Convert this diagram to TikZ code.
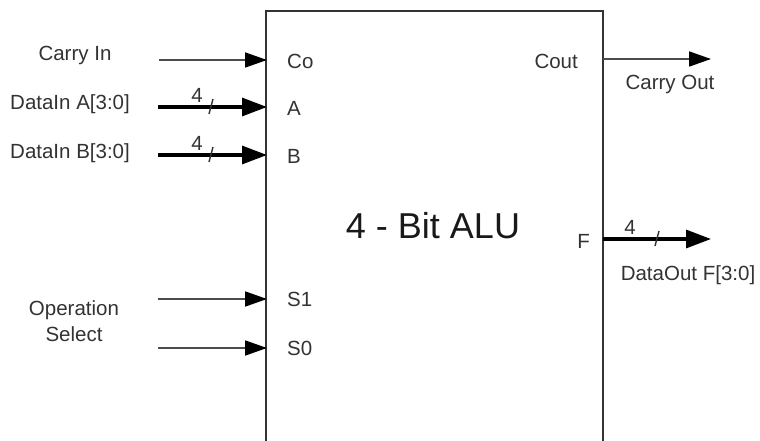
\documentclass[tikz,border=0pt]{standalone}
\usepackage{fontspec}
\setmainfont{Liberation Sans}
\usetikzlibrary{arrows.meta}
\begin{document}
\begin{tikzpicture}[x=1pt,y=-1pt,
  lbl/.style={font=\fontsize{20.5}{24}\selectfont, text=black!80, inner sep=0pt},
  ttl/.style={font=\fontsize{36}{40}\selectfont, text=black!90, inner sep=0pt},
  sig/.style={line width=1.8pt, draw=black!70, -{Triangle[length=22pt,width=15pt,fill=black,color=black]}},
  bus/.style={line width=3.2pt, draw=black, -{Triangle[length=25pt,width=18pt]}},
  slashmk/.style={line width=1.4pt, draw=black!80},
  boxline/.style={line width=2.2pt, draw=black!80}]
\useasboundingbox (0,0) rectangle (760,441);
\clip (0,0) rectangle (760,441);
\fill[white] (0,0) rectangle (760,441);
% box
\coordinate (bl) at (266,470);
\coordinate (tl) at (266,11);
\coordinate (tr) at (603,11);
\coordinate (br) at (603,470);
\draw[boxline] (bl) -- (tl) -- (tr) -- (br);
\node[ttl] (title) at (433,226) {4 - Bit ALU};
% pins
\coordinate (pCo) at (267,60);
\coordinate (pA) at (267,107);
\coordinate (pB) at (267,155);
\coordinate (pS1) at (267,299);
\coordinate (pS0) at (267,348);
\coordinate (pCout) at (603,59);
\coordinate (pF) at (603,239);
% sources / sinks
\coordinate (sCi) at (159,60);
\coordinate (sA) at (158,107);
\coordinate (sB) at (158,155);
\coordinate (sS1) at (158,299);
\coordinate (sS0) at (158,348);
\coordinate (eCout) at (711,59);
\coordinate (eF) at (711,239);
% connectors
\draw[sig] (sCi) -- (pCo);
\draw[bus] (sA) -- (pA);
\draw[bus] (sB) -- (pB);
\draw[sig] (sS1) -- (pS1);
\draw[sig] (sS0) -- (pS0);
\draw[sig] (pCout) -- (eCout);
\draw[bus] (pF) -- (eF);
% bus marks
\coordinate (mA1) at (209,114); \coordinate (mA2) at (213,99);
\draw[slashmk] (mA1) -- (mA2);
\coordinate (mB1) at (209,162); \coordinate (mB2) at (213,147);
\draw[slashmk] (mB1) -- (mB2);
\coordinate (mF1) at (655,246); \coordinate (mF2) at (659,231);
\draw[slashmk] (mF1) -- (mF2);
\node[lbl] (nA) at (197,95) {4};
\node[lbl] (nB) at (197,143) {4};
\node[lbl] (nF) at (630,227) {4};
% outside labels
\node[lbl] (tCi) at (75,55) {Carry In};
\node[lbl, anchor=west] (tA) at (10,104) {DataIn A[3:0]};
\node[lbl, anchor=west] (tB) at (10,153) {DataIn B[3:0]};
\node[lbl] (tOp) at (74,310) {Operation};
\node[lbl] (tSel) at (74,334) {Select};
\node[lbl] (tCo) at (670,84) {Carry Out};
\node[lbl] (tF) at (688,275) {DataOut F[3:0]};
% inside labels
\node[lbl, anchor=west] (iCo) at (287,61) {Co};
\node[lbl, anchor=west] (iA) at (287,108) {A};
\node[lbl, anchor=west] (iB) at (287,156) {B};
\node[lbl, anchor=west] (iS1) at (287,299) {S1};
\node[lbl, anchor=west] (iS0) at (287,348) {S0};
\node[lbl, anchor=east] (iCout) at (578,61) {Cout};
\node[lbl, anchor=east] (iF) at (590,241) {F};
\end{tikzpicture}
\end{document}
